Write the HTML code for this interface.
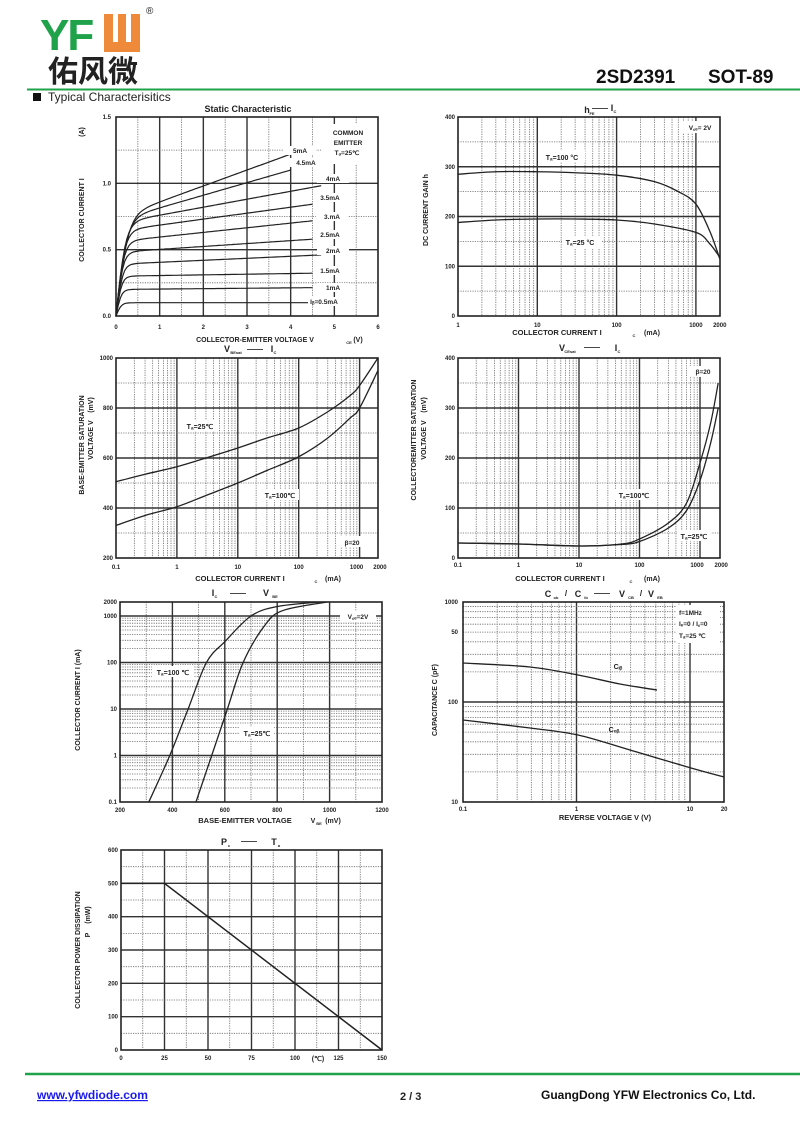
<!DOCTYPE html>
<html><head><meta charset="utf-8"><style>
body{margin:0;background:#fff;width:800px;height:1125px;overflow:hidden;font-family:"Liberation Sans",Arial,sans-serif}
svg text{font-family:"Liberation Sans",Arial,sans-serif;font-weight:bold;fill:#222}
</style></head><body>
<svg id="s" width="800" height="1125" xmlns="http://www.w3.org/2000/svg">
<text x="40" y="50" style="font-size:44px;fill:#1fa24a;font-weight:bold;letter-spacing:-2px">YF</text>
<rect x="104" y="14" width="36" height="38" fill="#ef8a3a"/>
<rect x="113" y="14" width="5" height="28" fill="#fff"/><rect x="126" y="14" width="5" height="28" fill="#fff"/>
<text x="146" y="14" style="font-size:10px;font-weight:normal">®</text>
<text x="48" y="82" style="font-family:'Noto Sans CJK SC',sans-serif;font-size:30px;font-weight:bold;fill:#222">佑风微</text>
<text x="596" y="83" style="font-size:19px;fill:#111">2SD2391</text>
<text x="708" y="83" style="font-size:19px;fill:#111">SOT-89</text>
<line x1="27" y1="89.5" x2="800" y2="89.5" stroke="#1fa24a" stroke-width="2"/>
<rect x="33" y="93" width="8" height="8" fill="#111"/>
<text x="48" y="101" style="font-size:12px;font-weight:normal">Typical  Characterisitics</text>
<line x1="25" y1="1074" x2="800" y2="1074" stroke="#1fa24a" stroke-width="2.5"/>
<text x="37" y="1099" style="font-size:12px;fill:#1a1aee;text-decoration:underline">www.yfwdiode.com</text>
<text x="400" y="1100" style="font-size:11px">2 / 3</text>
<text x="541" y="1099" style="font-size:12px;fill:#111">GuangDong YFW Electronics Co, Ltd.</text>
<g id="g"></g>
</svg>
<script>
var NS="http://www.w3.org/2000/svg",G=document.getElementById("g");
function el(t,a,txt){var e=document.createElementNS(NS,t);for(var k in a)e.setAttribute(k,a[k]);if(txt!=null)e.textContent=txt;G.appendChild(e);return e;}
function line(x1,y1,x2,y2,solid){el("line",{x1:x1,y1:y1,x2:x2,y2:y2,stroke:solid?"#333":"#666","stroke-width":solid?1.4:0.8,"stroke-dasharray":solid?"":"1.2,1.2"});}
function txt(x,y,s,sz,anc,rot){var a={x:x,y:y,"font-size":sz||7,"text-anchor":anc||"middle"};if(rot)a.transform="rotate(-90 "+x+" "+y+")";el("text",a,s);}
function box(x0,y0,x1,y1){el("rect",{x:x0,y:y0,width:x1-x0,height:y1-y0,fill:"none",stroke:"#222","stroke-width":1.6});}
function logMinor(a,b){var r=[];for(var d=a;d<b;d*=10)for(var m=2;m<=9;m++){var v=d*m;if(v<b)r.push(v);}return r;}
function curve(pts,w){
 var d="M"+pts[0][0]+","+pts[0][1];
 for(var i=0;i<pts.length-1;i++){var p0=pts[Math.max(0,i-1)],p1=pts[i],p2=pts[i+1],p3=pts[Math.min(pts.length-1,i+2)];
  d+=" C"+(p1[0]+(p2[0]-p0[0])/6)+","+(p1[1]+(p2[1]-p0[1])/6)+" "+(p2[0]-(p3[0]-p1[0])/6)+","+(p2[1]-(p3[1]-p1[1])/6)+" "+p2[0]+","+p2[1];}
 el("path",{d:d,fill:"none",stroke:"#222","stroke-width":w||1.5});}
function map(pts,X,Y){return pts.map(function(p){return [X(p[0]),Y(p[1])];});}
function L10(v){return Math.log(v)/Math.LN10;}

(function(){var X=function(v){return 116+v*43.67},Y=function(i){return 316-i*132.7};
 for(var v=0.5;v<6;v+=0.5)line(X(v),117,X(v),316,v%1==0);
 [0.25,0.5,0.75,1,1.25].forEach(function(i){line(116,Y(i),378,Y(i),i==0.5||i==1);});
 box(116,117,378,316);
 for(var k=0;k<=6;k++)txt(X(k),329,k,6);
 [["0.0",0],["0.5",0.5],["1.0",1],["1.5",1.5]].forEach(function(a){txt(111,Y(a[1])+2,a[0],6,"end");});
 txt(248,112,"Static Characteristic",9);
 txt(255,342,"COLLECTOR-EMITTER VOLTAGE   V",7);txt(349,344,"CE",4);txt(358,342,"(V)",7);
 txt(84,220,"COLLECTOR CURRENT    I",7,"middle",1);txt(84,132,"(A)",7,"middle",1);
 var P=[[.1,0,.12,4.5],[.2,.003,.12,4.5],[.3,.005,.13,4.5],[.39,.015,.15,4.7],[.48,.022,.16,4.5],[.56,.035,.18,4.5],[.64,.045,.2,4.5],[.7,.06,.22,4.7],[.72,.095,.25,4],[.74,.12,.27,4]];
 P.forEach(function(p){var pts=[];for(var v=0;v<=p[3]+1e-6;v+=0.05){var t=v/p[2];pts.push([X(v),Y((p[0]+p[1]*v)*((Math.exp(t)-Math.exp(-t))/(Math.exp(t)+Math.exp(-t))))]);}
  var d="M"+pts.map(function(q){return q[0].toFixed(1)+","+q[1].toFixed(1)}).join(" L");el("path",{d:d,fill:"none",stroke:"#222","stroke-width":1.2});});
 el("rect",{x:321,y:124,width:56,height:40,fill:"#fff"});
 txt(348,135,"COMMON",6.5);txt(348,145,"EMITTER",6.5);txt(347,155,"Tₐ=25℃",6.5);
 [["5mA",300,153],["4.5mA",306,165],["4mA",333,181],["3.5mA",330,200],["3.mA",332,219],["2.5mA",330,237],["2mA",333,253],["1.5mA",330,273],["1mA",333,290],["Iᵦ=0.5mA",324,304]].forEach(function(a){el("rect",{x:a[1]-16,y:a[2]-7,width:32,height:9,fill:"#fff"});txt(a[1],a[2],a[0],6.5);});
})();

(function(){var X=function(v){return 458+L10(v)*79.3},Y=function(h){return 316-h*0.4975};
 logMinor(1,2000).forEach(function(v){line(X(v),117,X(v),316,false)});[10,100,1000].forEach(function(v){line(X(v),117,X(v),316,true)});
 [50,150,250,350].forEach(function(h){line(458,Y(h),720,Y(h),false)});[100,200,300].forEach(function(h){line(458,Y(h),720,Y(h),true)});
 box(458,117,720,316);
 [[1,"1"],[10,"10"],[100,"100"],[1000,"1000"],[2000,"2000"]].forEach(function(a){txt(X(a[0]),327,a[1],6)});
 [0,100,200,300,400].forEach(function(h){txt(455,Y(h)+2,h,6,"end")});
 txt(587,113,"h",9);txt(592,115,"FE",4);txt(600,111,"——",8);txt(612,111,"I",9);txt(615,113,"C",4);
 txt(557,335,"COLLECTOR CURRENT   I",7.5);txt(634,337,"C",4);txt(652,335,"(mA)",7);
 txt(428,210,"DC CURRENT GAIN   h",7,"middle",1);
 curve(map([[1,285],[3,290],[10,290],[30,288],[100,283],[300,270],[600,250],[1000,225],[1500,170],[2000,115]],X,Y),1.3);
 curve(map([[1,188],[3,193],[10,195],[30,195],[100,193],[300,185],[1000,168],[1500,145],[2000,118]],X,Y),1.3);
 el("rect",{x:540,y:150,width:45,height:12,fill:"#fff"});txt(562,160,"Tₐ=100 °C",7);
 el("rect",{x:562,y:237,width:40,height:12,fill:"#fff"});txt(580,245,"Tₐ=25 °C",7);
 el("rect",{x:682,y:121,width:36,height:12,fill:"#fff"});txt(700,130,"V꜀ₑ= 2V",6.5);
})();

(function(){var X=function(v){return 116+(L10(v)+1)*60.9},Y=function(v){return 558-(v-200)*0.25};
 logMinor(0.1,2000).forEach(function(v){line(X(v),358,X(v),558,false)});[1,10,100,1000].forEach(function(v){line(X(v),358,X(v),558,true)});
 [300,500,700,900].forEach(function(h){line(116,Y(h),378,Y(h),false)});[400,600,800].forEach(function(h){line(116,Y(h),378,Y(h),true)});
 box(116,358,378,558);
 [[0.1,"0.1"],[1,"1"],[10,"10"],[100,"100"],[1000,"1000"],[2000,"2000"]].forEach(function(a){txt(X(a[0])-(a[0]==1000?3:a[0]==2000?-2:0),569,a[1],6)});
 [200,400,600,800,1000].forEach(function(h){txt(113,Y(h)+2,h,6,"end")});
 txt(227,352,"V",9);txt(236,354,"BEsat",4);txt(255,352,"——",8);txt(272,352,"I",9);txt(275,354,"C",4);
 txt(240,581,"COLLECTOR CURRENT   I",7.5);txt(316,583,"C",4);txt(333,581,"(mA)",7);
 txt(84,445,"BASE-EMITTER SATURATION",7,"middle",1);txt(93,440,"VOLTAGE   V",7,"middle",1);txt(93,405,"(mV)",7,"middle",1);
 curve(map([[0.1,505],[0.3,535],[1,565],[3,600],[10,640],[30,680],[100,720],[300,785],[700,850],[1000,890],[2000,1000]],X,Y),1.3);
 curve(map([[0.1,330],[0.3,370],[1,405],[3,450],[10,500],[30,550],[100,605],[300,680],[700,760],[1000,800],[2000,950]],X,Y),1.3);
 el("rect",{x:182,y:420,width:36,height:11,fill:"#fff"});txt(200,429,"Tₐ=25℃",7);
 el("rect",{x:261,y:489,width:38,height:11,fill:"#fff"});txt(280,498,"Tₐ=100℃",7);
 el("rect",{x:339,y:536,width:26,height:11,fill:"#fff"});txt(352,545,"β=20",6.5);
})();

(function(){var X=function(v){return 458+(L10(v)+1)*60.5},Y=function(v){return 558-v*0.5};
 logMinor(0.1,2000).forEach(function(v){line(X(v),358,X(v),558,false)});[1,10,100,1000].forEach(function(v){line(X(v),358,X(v),558,true)});
 [50,150,250,350].forEach(function(h){line(458,Y(h),720,Y(h),false)});[100,200,300].forEach(function(h){line(458,Y(h),720,Y(h),true)});
 box(458,358,720,558);
 [[0.1,"0.1"],[1,"1"],[10,"10"],[100,"100"],[1000,"1000"],[2000,"2000"]].forEach(function(a){txt(X(a[0])-(a[0]==1000?3:a[0]==2000?-3:0),567,a[1],6)});
 [0,100,200,300,400].forEach(function(h){txt(455,Y(h)+2,h,6,"end")});
 txt(562,351,"V",9);txt(570,353,"CEsat",4);txt(592,350,"——",8);txt(616,351,"I",9);txt(619,353,"C",4);
 txt(560,581,"COLLECTOR CURRENT   I",7.5);txt(631,583,"C",4);txt(652,581,"(mA)",7);
 txt(416,440,"COLLECTOREMITTER SATURATION",7,"middle",1);txt(426,440,"VOLTAGE   V",7,"middle",1);txt(426,405,"(mV)",7,"middle",1);
 curve(map([[0.1,30],[1,28],[10,24],[50,28],[100,38],[300,70],[600,110],[1000,190],[1500,270],[2000,350]],X,Y),1.3);
 curve(map([[0.1,30],[1,28],[10,24],[50,27],[100,33],[300,60],[600,95],[1000,155],[1500,230],[2000,300]],X,Y),1.3);
 el("rect",{x:614,y:489,width:38,height:11,fill:"#fff"});txt(634,498,"Tₐ=100℃",7);
 el("rect",{x:677,y:530,width:34,height:11,fill:"#fff"});txt(694,539,"Tₐ=25℃",7);
 el("rect",{x:690,y:366,width:25,height:11,fill:"#fff"});txt(703,374,"β=20",6.5);
})();

(function(){var X=function(v){return 120+(v-200)*0.262},Y=function(i){return 802-(L10(i)+1)*46.5};
 [300,500,700,900,1100].forEach(function(v){line(X(v),602,X(v),802,false)});[400,600,800,1000].forEach(function(v){line(X(v),602,X(v),802,true)});
 logMinor(0.1,2000).forEach(function(v){line(120,Y(v),382,Y(v),false)});[1,10,100,1000].forEach(function(v){line(120,Y(v),382,Y(v),true)});
 box(120,602,382,802);
 [200,400,600,800,1000,1200].forEach(function(v){txt(X(v),812,v,6)});
 [[0.1,"0.1"],[1,"1"],[10,"10"],[100,"100"],[1000,"1000"],[2000,"2000"]].forEach(function(a){txt(117,Y(a[0])+2,a[1],6,"end")});
 txt(213,596,"I",9);txt(216,598,"C",4);txt(238,596,"——",8);txt(266,596,"V",9);txt(275,598,"BE",4);
 txt(245,823,"BASE-EMITTER VOLTAGE",7.5);txt(313,823,"V",7);txt(319,825,"BE",4);txt(333,823,"(mV)",7);
 txt(80,700,"COLLECTOR CURRENT    I   (mA)",7,"middle",1);
 curve(map([[310,0.1],[390,1],[460,10],[530,100],[600,280],[700,1000],[800,1600],[960,2000]],X,Y),1.3);
 curve(map([[490,0.1],[550,1],[610,10],[670,100],[750,600],[820,1300],[990,2000]],X,Y),1.3);
 el("rect",{x:152,y:666,width:42,height:11,fill:"#fff"});txt(173,675,"Tₐ=100 ℃",7);
 el("rect",{x:240,y:727,width:34,height:11,fill:"#fff"});txt(257,736,"Tₐ=25℃",7);
 el("rect",{x:340,y:611,width:36,height:11,fill:"#fff"});txt(358,619,"V꜀ₑ=2V",6.5);
})();

(function(){var X=function(v){return 463+(L10(v)+1)*113.5},Y=function(c){return 802-(L10(c)-1)*100};
 logMinor(0.1,20).forEach(function(v){line(X(v),602,X(v),802,false)});[1,10].forEach(function(v){line(X(v),602,X(v),802,true)});
 logMinor(10,1000).forEach(function(v){line(463,Y(v),724,Y(v),false)});line(463,Y(100),724,Y(100),true);
 box(463,602,724,802);
 [[0.1,"0.1"],[1,"1"],[10,"10"],[20,"20"]].forEach(function(a){txt(X(a[0]),811,a[1],6)});
 [[1000,"1000"],[50,"50"],[100,"100"],[10,"10"]].forEach(function(a){var y=a[0]==50?632:Y(a[0]);txt(458,y+2,a[1],6,"end")});
 txt(548,597,"C",9);txt(556,599,"ob",4);txt(566,596,"/",8);txt(578,597,"C",9);txt(586,599,"ib",4);txt(602,596,"——",8);txt(622,597,"V",9);txt(631,599,"CB",4);txt(641,596,"/",8);txt(651,597,"V",9);txt(660,599,"EB",4);
 txt(605,820,"REVERSE  VOLTAGE   V   (V)",7.5);
 txt(437,700,"CAPACITANCE   C   (pF)",7,"middle",1);
 curve([[463,663],[530,667],[578,675],[620,684],[657,690]],1.3);
 curve([[463,720],[530,728],[578,735],[630,750],[691,768],[724,777]],1.3);
 txt(618,669,"Cᵢᵦ",7);txt(614,732,"Cₒᵦ",7);
 el("rect",{x:676,y:605,width:44,height:38,fill:"#fff"});
 txt(679,615,"f=1MHz",6.5,"start");txt(679,626,"Iₑ=0 / I꜀=0",6.5,"start");txt(679,638,"Tₐ=25 ℃",6.5,"start");
})();

(function(){var X=function(t){return 121+t*1.74},Y=function(p){return 1050-p*0.3333};
 for(var t=12.5;t<150;t+=12.5)line(X(t),850,X(t),1050,t%25==0);
 for(var p=50;p<600;p+=50)line(121,Y(p),382,Y(p),p%100==0);
 box(121,850,382,1050);
 [0,25,50,75,100,125,150].forEach(function(t){txt(X(t),1060,t,6)});txt(318,1061,"(℃)",7);
 [0,100,200,300,400,500,600].forEach(function(p){txt(118,Y(p)+2,p,6,"end")});
 txt(224,845,"P",9);txt(229,847,"c",4);txt(249,844,"——",8);txt(274,845,"T",9);txt(279,847,"a",4);
 txt(80,950,"COLLECTOR POWER DISSIPATION",7,"middle",1);txt(90,935,"P",7,"middle",1);txt(90,915,"(mW)",7,"middle",1);
 el("polyline",{points:X(0)+","+Y(500)+" "+X(25)+","+Y(500)+" "+X(150)+","+Y(0),fill:"none",stroke:"#222","stroke-width":1.5});
})();
</script>
</body></html>
